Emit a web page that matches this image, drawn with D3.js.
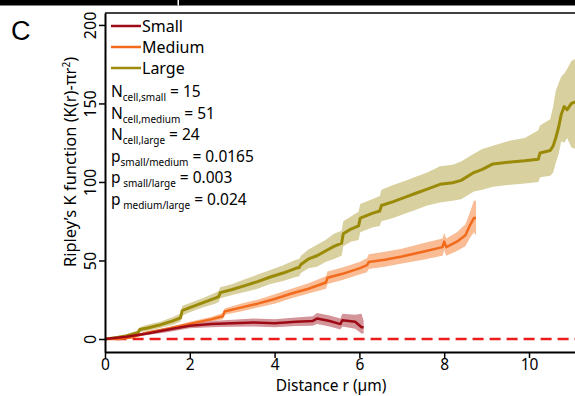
<!DOCTYPE html>
<html>
<head>
<meta charset="utf-8">
<script src="https://cdn.jsdelivr.net/npm/d3@7"></script>
<style>
  body { margin: 0; background: white; }
  svg { display: block; font-family: "Noto Sans", "Open Sans", sans-serif; }
</style>
</head>
<body>
<svg id="display"></svg>
<script>
"use strict";

var width = 575,
    height = 396;

// Ripley's K curves: r (um), mean, lower, upper
var largeR    = [0, 0.3, 0.5, 0.78, 0.82, 1.0, 1.3, 1.6, 1.78, 1.82, 2.0, 2.3, 2.6, 2.68, 2.72, 3.0, 3.3, 3.6, 3.9, 4.2, 4.5, 4.58, 4.62, 4.8, 5.0, 5.2, 5.4, 5.58, 5.62, 5.8, 5.98, 6.02, 6.3, 6.48, 6.52, 6.8, 7.1, 7.3, 7.6, 7.9, 8.2, 8.4, 8.7, 8.9, 9.15, 9.5, 9.9, 10.22, 10.26, 10.5, 10.57, 10.63, 10.7, 10.76, 10.83, 10.9, 11.0, 11.2];
var largeMean = [0, 1, 2, 4, 6, 7, 9, 11.5, 13.5, 18, 20, 23, 26, 27, 29.5, 31.5, 34, 36.5, 39.5, 42, 45, 45.5, 47.5, 51, 53, 56, 59, 61, 67, 70, 72, 77, 80, 81.5, 85, 87.5, 90.5, 92.5, 95.5, 98.5, 99.5, 101, 106, 108, 111.5, 112.5, 113.5, 114.5, 118.5, 120, 123, 128, 135, 143, 148, 146, 150, 152];
var largeLo   = [0, 0, 1, 2.5, 4.5, 5, 7, 9, 11, 15, 17, 20, 22.5, 23.5, 26, 28, 30, 32, 35, 37, 39.5, 40, 42, 45, 46, 49, 51, 53, 59, 62, 63, 68, 71, 72, 75, 77, 80, 82, 85, 87, 88, 89, 94, 95, 97, 98, 99, 100, 103, 104, 106, 112, 118, 126, 125, 128, 122, 120];
var largeHi   = [0, 2, 3, 5.5, 7.5, 9, 11, 14, 16, 21, 23, 26, 29.5, 30.5, 33, 35, 38, 41, 44, 47, 50.5, 51, 53, 57, 60, 63, 67, 69, 75, 78, 81, 86, 89, 91, 95, 98, 101, 103, 106, 110, 111, 113, 118, 121, 123, 126, 128, 133, 136, 140, 148, 158, 163, 167, 169, 172, 177, 180];

var mediumR    = [0, 0.3, 0.6, 1.0, 1.5, 2.0, 2.5, 2.78, 2.82, 3.2, 3.6, 4.0, 4.4, 4.8, 5.21, 5.25, 5.6, 6.0, 6.18, 6.22, 6.6, 7.0, 7.5, 7.96, 8.0, 8.05, 8.3, 8.5, 8.6, 8.7, 8.75];
var mediumMean = [0, 0, 1, 4, 6.5, 9.5, 12.5, 14.5, 17.5, 20, 22.5, 25.5, 29, 32, 36, 39, 41.5, 45, 47, 49, 50.5, 52.5, 55.5, 58.5, 62, 58.5, 62, 66, 72, 77, 77];
var mediumLo   = [0, -0.5, 0.3, 3, 5.3, 8, 11, 12.5, 15.5, 17.5, 20, 22.5, 26, 29, 32, 35, 37.5, 41, 42.5, 44.5, 46, 48, 50.5, 53, 56.5, 53, 56, 59, 64, 68, 66];
var mediumHi   = [0, 0.5, 1.7, 5, 7.7, 11, 14, 16.5, 19.5, 22.5, 25, 28.5, 32, 35.5, 40, 43, 45.5, 49, 51.5, 54, 55.5, 57.5, 61, 64, 67.5, 64, 68, 73, 80, 88, 88];

var smallR    = [0, 0.5, 1.0, 1.5, 2.0, 2.5, 3.0, 3.5, 4.0, 4.5, 4.9, 5.0, 5.3, 5.55, 5.6, 5.9, 6.05, 6.1];
var smallMean = [0, 1.5, 3.5, 6, 8.5, 9.5, 10, 10.5, 10, 11, 11.5, 13, 11.5, 9.5, 12, 11, 7.5, 7.5];
var smallLo   = [0, 0.5, 2.5, 4.5, 6.8, 7.5, 7.8, 8, 7.5, 8.3, 8.5, 9.5, 8, 6, 8, 6.5, 3.5, 3.5];
var smallHi   = [0, 2.5, 4.5, 7.5, 10.2, 11.5, 12.2, 13, 12.5, 13.7, 14.5, 16.5, 15, 13, 16, 15.5, 16, 11.5];

var xTicks = [0, 2, 4, 6, 8, 10];
var yTicks = [0, 50, 100, 150, 200];

var legendNames = ['Small', 'Medium', 'Large'];
var lineColors = ['#9e0b16', '#f26a1b', '#9a8a08'];
var bandColors = ['#d4959a', '#f9bc95', '#d8d09e'];

var svg = d3.select('#display').attr('width', width).attr('height', height);

var x = d3.scaleLinear().domain([0, 12]).range([105, 105 + 12 * 42.4]);
var y = d3.scaleLinear().domain([-8.28, 207.6]).range([352, 13]);

// strip at the top left over from the panel above
svg.append('rect').attr('x', 0).attr('y', 0).attr('width', width).attr('height', 5.5).attr('fill', 'black');
svg.append('rect').attr('x', 177.5).attr('y', 0).attr('width', 1.5).attr('height', 5.5).attr('fill', 'white');

svg.append('text').text('C')
  .attr('x', 11).attr('y', 40)
  .attr('font-family', 'Liberation Sans, Arial, sans-serif')
  .attr('font-size', 27);

svg.append('defs').append('clipPath').attr('id', 'plotclip')
  .append('rect').attr('x', 105).attr('y', 13).attr('width', width - 105).attr('height', 339);

var plot = svg.append('g').attr('clip-path', 'url(#plotclip)');

function rows(rs, m, lo, hi) {
  return rs.map(function(r, i){ return {r: r, m: m[i], lo: lo[i], hi: hi[i]}; });
}
var series = [
  rows(smallR, smallMean, smallLo, smallHi),
  rows(mediumR, mediumMean, mediumLo, mediumHi),
  rows(largeR, largeMean, largeLo, largeHi)
];

var area = d3.area()
  .x(function(d){ return x(d.r); })
  .y0(function(d){ return y(d.lo); })
  .y1(function(d){ return y(d.hi); });
var line = d3.line()
  .x(function(d){ return x(d.r); })
  .y(function(d){ return y(d.m); });

[2, 1, 0].forEach(function(i){
  plot.append('path').attr('d', area(series[i])).attr('fill', bandColors[i]);
});

plot.append('line')
  .attr('x1', x(0.25)).attr('x2', width)
  .attr('y1', y(0)).attr('y2', y(0))
  .attr('stroke', '#ec1c1c').attr('stroke-width', 2.6)
  .attr('stroke-dasharray', '11,6');

[2, 1, 0].forEach(function(i){
  plot.append('path').attr('d', line(series[i]))
    .attr('fill', 'none').attr('stroke', lineColors[i])
    .attr('stroke-linejoin', 'round')
    .attr('stroke-width', i == 2 ? 3 : 2.5);
});

// frame
svg.append('line').attr('x1', 105).attr('x2', width).attr('y1', 13).attr('y2', 13)
  .attr('stroke', 'black').attr('stroke-width', 1.5);

var xAxis = svg.append('g').attr('transform', 'translate(0,352)')
  .call(d3.axisBottom(x).tickValues(xTicks).tickSize(6).tickSizeOuter(0));
xAxis.select('.domain').attr('stroke-width', 2);
xAxis.selectAll('.tick line').attr('stroke-width', 1.5);
xAxis.selectAll('text').attr('font-size', 15.5).attr('font-family', 'Noto Sans, sans-serif').attr('y', 7);

var yAxis = svg.append('g').attr('transform', 'translate(105,0)')
  .call(d3.axisLeft(y).tickValues(yTicks).tickSize(6).tickSizeOuter(0));
yAxis.select('.domain').attr('stroke-width', 2);
yAxis.selectAll('.tick line').attr('stroke-width', 1.5);
yAxis.selectAll('text')
  .attr('font-size', 16).attr('font-family', 'Noto Sans, sans-serif')
  .attr('x', 0).attr('dy', 0)
  .attr('text-anchor', 'middle')
  .attr('transform', 'translate(-9,0) rotate(-90)');

svg.append('text').text('Distance r (\u00b5m)')
  .attr('x', 331).attr('y', 391)
  .attr('text-anchor', 'middle').attr('font-size', 15.5);

var yTitle = svg.append('text')
  .attr('transform', 'translate(76,162) rotate(-90)')
  .attr('text-anchor', 'middle').attr('font-size', 16.5);
yTitle.append('tspan').text('Ripley\u2019s K function (K(r)-\u03c0r');
yTitle.append('tspan').text('2').attr('font-size', 10).attr('dy', -6);
yTitle.append('tspan').text(')').attr('dy', 6);

// legend
var legend = svg.append('g');
legendNames.forEach(function(name, i){
  var ly = 26 + i * 21;
  legend.append('line').attr('x1', 111).attr('x2', 141).attr('y1', ly).attr('y2', ly)
    .attr('stroke', lineColors[i]).attr('stroke-width', 2.5);
  legend.append('text').text(name).attr('x', 142).attr('y', ly + 6).attr('font-size', 16);
});

var stats = [
  ['N', 'cell,small', ' = 15'],
  ['N', 'cell,medium', ' = 51'],
  ['N', 'cell,large', ' = 24'],
  ['p', 'small/medium', ' = 0.0165'],
  ['p', ' small/large', ' = 0.003'],
  ['p', ' medium/large', ' = 0.024']
];
stats.forEach(function(s, i){
  var t = legend.append('text').attr('x', 111).attr('y', 97 + i * 21.6).attr('font-size', 15.5);
  t.append('tspan').text(s[0]);
  t.append('tspan').text(s[1]).attr('font-size', 10).attr('dy', 4).style('white-space', 'pre');
  t.append('tspan').text(s[2]).attr('dy', -4).style('white-space', 'pre');
});
</script>
</body>
</html>
